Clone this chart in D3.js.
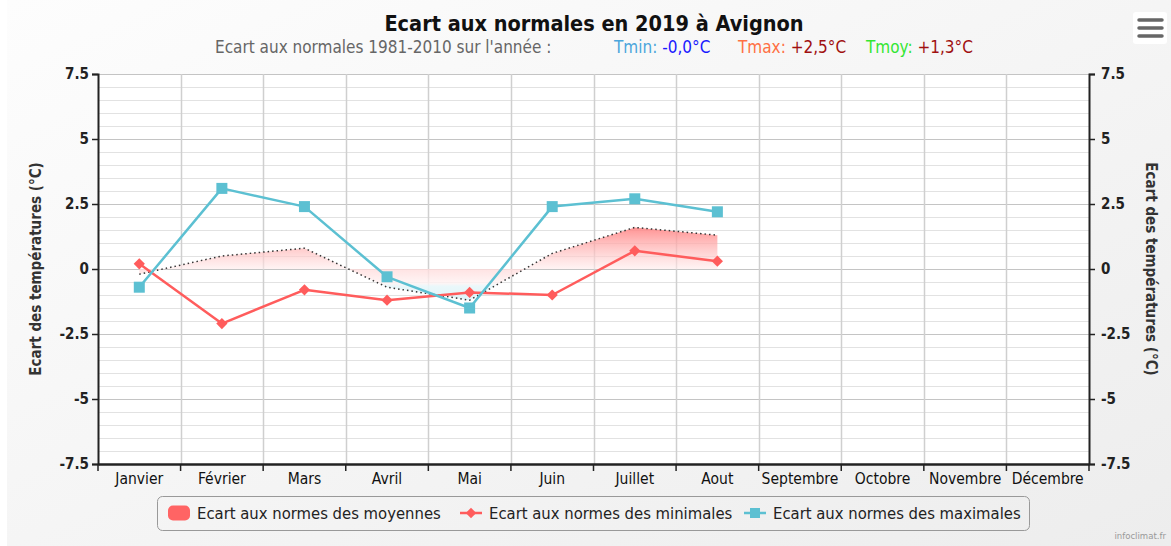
<!DOCTYPE html>
<html>
<head>
<meta charset="utf-8">
<script src="https://cdn.jsdelivr.net/npm/d3@7"></script>
<style>
  html, body { margin: 0; padding: 0; background: #fff; }
  svg { display: block; font-family: "DejaVu Sans Condensed", "DejaVu Sans", sans-serif; }
</style>
</head>
<body>
<svg id="chart" width="1171" height="546"></svg>
<script>
// data
var months = ['Janvier', 'Février', 'Mars', 'Avril', 'Mai', 'Juin', 'Juillet', 'Aout',
  'Septembre', 'Octobre', 'Novembre', 'Décembre']
var tmoy = [-0.2, 0.5, 0.8, -0.7, -1.2, 0.6, 1.6, 1.3]
var tmin = [0.2, -2.1, -0.8, -1.2, -0.9, -1.0, 0.7, 0.3]
var tmax = [-0.7, 3.1, 2.4, -0.3, -1.5, 2.4, 2.7, 2.2]
var yTicks = [-7.5, -5, -2.5, 0, 2.5, 5, 7.5]
var legendNames = ['Ecart aux normes des moyennes', 'Ecart aux normes des minimales', 'Ecart aux normes des maximales']

var W = 1171, H = 546
var plot = {left: 98, right: 1089, top: 74, bottom: 464}
var redColor = '#ff5c5c', blueColor = '#5cc0d2'

var svg = d3.select('#chart')
var defs = svg.append('defs')

// chart background
var bg = defs.append('linearGradient').attr('id', 'bg')
  .attr('x1', 0).attr('y1', 0).attr('x2', 1).attr('y2', 1)
bg.append('stop').attr('offset', 0).attr('stop-color', '#fdfdfd')
bg.append('stop').attr('offset', 1).attr('stop-color', '#ededed')
svg.append('rect').attr('x', 7).attr('y', 0).attr('width', W - 7).attr('height', H).attr('fill', 'url(#bg)')

var x = d3.scaleBand().domain(months).range([plot.left, plot.right])
var y = d3.scaleLinear().domain([-7.5, 7.5]).range([plot.bottom, plot.top])
var cx = function (d, i) { return x(months[i]) + x.bandwidth() / 2 }

svg.append('rect').attr('x', plot.left).attr('y', plot.top)
  .attr('width', plot.right - plot.left).attr('height', plot.bottom - plot.top).attr('fill', '#fff')

// minor grid every 0.5
svg.append('g').selectAll('line').data(d3.range(-7.5, 7.51, 0.5)).join('line')
  .attr('x1', plot.left).attr('x2', plot.right)
  .attr('y1', d => Math.round(y(d)) + 0.5).attr('y2', d => Math.round(y(d)) + 0.5)
  .attr('stroke', '#e2e2e2').attr('stroke-width', 1)
// major grid
svg.append('g').selectAll('line').data(yTicks).join('line')
  .attr('x1', plot.left).attr('x2', plot.right)
  .attr('y1', d => Math.round(y(d)) + 0.5).attr('y2', d => Math.round(y(d)) + 0.5)
  .attr('stroke', '#c4c4c4').attr('stroke-width', 1)
// vertical grid at category boundaries
svg.append('g').selectAll('line').data(months.slice(1)).join('line')
  .attr('x1', d => Math.round(x(d)) + 0.5).attr('x2', d => Math.round(x(d)) + 0.5)
  .attr('y1', plot.top).attr('y2', plot.bottom)
  .attr('stroke', '#cfcfcf').attr('stroke-width', 1.5)

// area gradients
var gPos = defs.append('linearGradient').attr('id', 'gpos').attr('gradientUnits', 'userSpaceOnUse')
  .attr('x1', 0).attr('x2', 0).attr('y1', y(d3.max(tmoy))).attr('y2', y(0))
gPos.append('stop').attr('offset', 0).attr('stop-color', '#ff8080').attr('stop-opacity', 0.85)
gPos.append('stop').attr('offset', 1).attr('stop-color', '#ffecec').attr('stop-opacity', 0.6)
var gNeg = defs.append('linearGradient').attr('id', 'gneg').attr('gradientUnits', 'userSpaceOnUse')
  .attr('x1', 0).attr('x2', 0).attr('y1', y(0)).attr('y2', y(d3.min(tmoy)))
gNeg.append('stop').attr('offset', 0).attr('stop-color', '#ffdcdc').attr('stop-opacity', 0.8)
gNeg.append('stop').attr('offset', 0.45).attr('stop-color', '#fff2f2').attr('stop-opacity', 0.8)
gNeg.append('stop').attr('offset', 0.55).attr('stop-color', '#e8f7fa').attr('stop-opacity', 0.9)
gNeg.append('stop').attr('offset', 1).attr('stop-color', '#dcf2f7').attr('stop-opacity', 0.9)

defs.append('clipPath').attr('id', 'cpos').append('rect')
  .attr('x', plot.left).attr('y', plot.top).attr('width', plot.right - plot.left).attr('height', y(0) - plot.top)
defs.append('clipPath').attr('id', 'cneg').append('rect')
  .attr('x', plot.left).attr('y', y(0)).attr('width', plot.right - plot.left).attr('height', plot.bottom - y(0))

var area = d3.area().x(cx).y0(y(0)).y1(d => y(d))
svg.append('path').datum(tmoy).attr('d', area).attr('fill', 'url(#gpos)').attr('clip-path', 'url(#cpos)')
svg.append('path').datum(tmoy).attr('d', area).attr('fill', 'url(#gneg)').attr('clip-path', 'url(#cneg)')

var line = d3.line().x(cx).y(d => y(d))
svg.append('path').datum(tmoy).attr('d', line).attr('fill', 'none')
  .attr('stroke', '#333').attr('stroke-width', 1.5).attr('stroke-dasharray', '1.5,3')

// min series
svg.append('path').datum(tmin).attr('d', line).attr('fill', 'none')
  .attr('stroke', redColor).attr('stroke-width', 2.5).attr('stroke-linejoin', 'round')
svg.append('g').selectAll('path').data(tmin).join('path')
  .attr('d', d3.symbol(d3.symbolDiamond2, 80)())
  .attr('transform', (d, i) => 'translate(' + cx(d, i) + ',' + y(d) + ')')
  .attr('fill', redColor)

// max series
svg.append('path').datum(tmax).attr('d', line).attr('fill', 'none')
  .attr('stroke', blueColor).attr('stroke-width', 2.5).attr('stroke-linejoin', 'round')
svg.append('g').selectAll('rect').data(tmax).join('rect')
  .attr('x', (d, i) => cx(d, i) - 5.5).attr('y', d => y(d) - 5.5)
  .attr('width', 11).attr('height', 11).attr('fill', blueColor)

// axes
var fmt = function (d) { return String(d) }
var leftAxis = d3.axisLeft(y).tickValues(yTicks).tickSize(6).tickPadding(3).tickFormat(fmt)
var rightAxis = d3.axisRight(y).tickValues(yTicks).tickSize(6).tickPadding(6).tickFormat(fmt)
var gl = svg.append('g').attr('transform', 'translate(' + plot.left + ',0)').call(leftAxis)
var gr = svg.append('g').attr('transform', 'translate(' + plot.right + ',0)').call(rightAxis)
;[gl, gr].forEach(function (g) {
  g.select('.domain').attr('stroke', '#222').attr('stroke-width', 2)
  g.selectAll('.tick line').attr('stroke', '#222').attr('stroke-width', 1.5)
  g.selectAll('.tick text').attr('font-size', 15).attr('fill', '#222').attr('font-weight', 600)
    .attr('font-family', '"DejaVu Sans Condensed", sans-serif')
})

var bottomAxis = d3.axisBottom(x).tickSize(0).tickPadding(9)
var gb = svg.append('g').attr('transform', 'translate(0,' + plot.bottom + ')').call(bottomAxis)
gb.select('.domain').attr('stroke', '#222').attr('stroke-width', 2.5)
gb.selectAll('.tick text').attr('font-size', 15.5).attr('fill', '#111')
  .attr('font-family', '"DejaVu Sans Condensed", sans-serif')
gb.append('g').selectAll('line').data(months.concat(['end'])).join('line')
  .attr('x1', (d, i) => i < months.length ? x(d) : plot.right)
  .attr('x2', (d, i) => i < months.length ? x(d) : plot.right)
  .attr('y1', 0).attr('y2', 7).attr('stroke', '#222').attr('stroke-width', 1.5)

// axis titles
svg.append('text').attr('transform', 'translate(41,' + y(0) + ') rotate(-90)')
  .attr('text-anchor', 'middle').attr('font-size', 15).attr('font-weight', 'bold').attr('fill', '#333')
  .text('Ecart des températures (°C)')
svg.append('text').attr('transform', 'translate(1146,' + y(0) + ') rotate(90)')
  .attr('text-anchor', 'middle').attr('font-size', 15).attr('font-weight', 'bold').attr('fill', '#333')
  .text('Ecart des températures (°C)')

// title and subtitle
svg.append('text').attr('x', 594).attr('y', 31).attr('text-anchor', 'middle')
  .attr('font-size', 21.5).attr('font-weight', 'bold').attr('fill', '#111')
  .text('Ecart aux normales en 2019 à Avignon')
var sub = svg.append('text').attr('x', 215).attr('y', 53).attr('font-size', 17)
sub.append('tspan').attr('fill', '#666').text("Ecart aux normales 1981-2010 sur l'année :")
sub.append('tspan').attr('x', 614).attr('fill', '#4ba6dc').text('Tmin: ')
sub.append('tspan').attr('fill', '#1a1aff').text('-0,0°C')
sub.append('tspan').attr('x', 738).attr('fill', '#ff7043').text('Tmax: ')
sub.append('tspan').attr('fill', '#a01010').text('+2,5°C')
sub.append('tspan').attr('x', 866).attr('fill', '#33e633').text('Tmoy: ')
sub.append('tspan').attr('fill', '#a01010').text('+1,3°C')

// menu button
var menu = svg.append('g')
menu.append('rect').attr('x', 1133).attr('y', 12).attr('width', 34).attr('height', 32).attr('rx', 3).attr('fill', '#fff')
menu.selectAll('line').data([20, 28, 36]).join('line')
  .attr('x1', 1139).attr('x2', 1162).attr('y1', d => d).attr('y2', d => d)
  .attr('stroke', '#666').attr('stroke-width', 3.5).attr('stroke-linecap', 'round')

// legend
var legend = svg.append('g')
legend.append('rect').attr('x', 157.5).attr('y', 496.5).attr('width', 872).attr('height', 34)
  .attr('rx', 5).attr('fill', 'none').attr('stroke', '#999').attr('stroke-width', 1)
var lx = [168, 460, 744]
var item = legend.selectAll('g').data(legendNames).join('g')
  .attr('transform', (d, i) => 'translate(' + lx[i] + ',513)')
item.append('text').attr('x', 29).attr('y', 6).attr('font-size', 16.5).attr('fill', '#222').text(d => d)
item.filter((d, i) => i === 0).append('rect')
  .attr('x', 0).attr('y', -7.5).attr('width', 22).attr('height', 15).attr('rx', 5).attr('fill', '#ff6464')
item.filter((d, i) => i > 0).append('line')
  .attr('x1', 0).attr('x2', 22).attr('y1', 0).attr('y2', 0)
  .attr('stroke', (d, i) => i === 0 ? redColor : blueColor).attr('stroke-width', 2.5)
item.filter((d, i) => i === 1).append('path')
  .attr('d', d3.symbol(d3.symbolDiamond2, 70)()).attr('transform', 'translate(11,0)').attr('fill', redColor)
item.filter((d, i) => i === 2).append('rect')
  .attr('x', 6).attr('y', -5).attr('width', 10).attr('height', 10).attr('fill', blueColor)

// credits
svg.append('text').attr('x', 1166).attr('y', 539).attr('text-anchor', 'end')
  .attr('font-size', 9.5).attr('fill', '#999').text('infoclimat.fr')
</script>
</body>
</html>
